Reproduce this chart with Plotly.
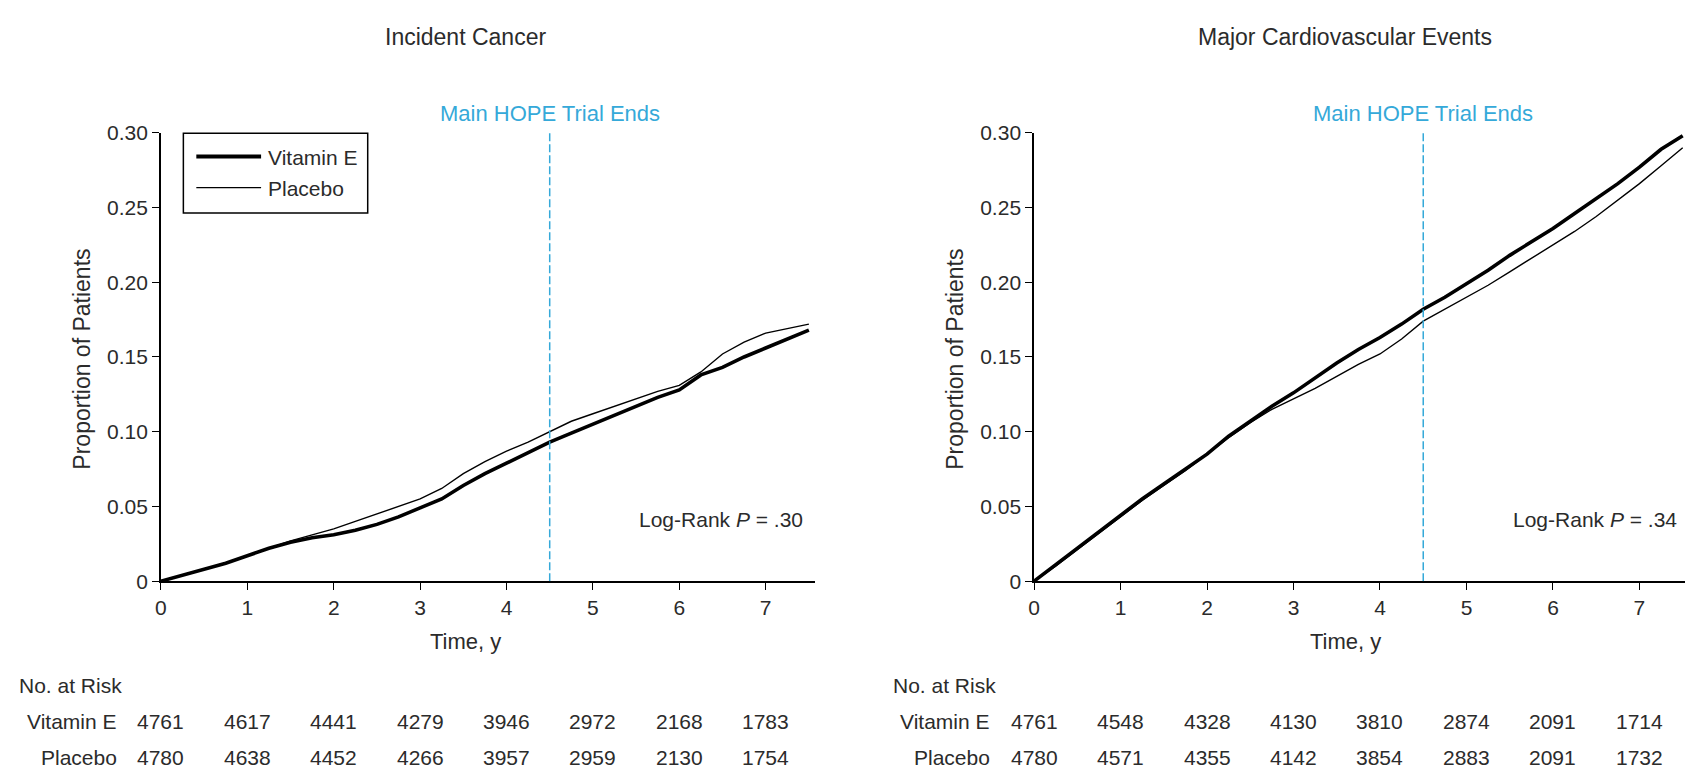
import plotly.graph_objects as go

# ---------------- data ----------------
time_grid = [0, 0.25, 0.5, 0.75, 1.0, 1.25, 1.5, 1.75, 2.0, 2.25, 2.5, 2.75, 3.0,
             3.25, 3.5, 3.75, 4.0, 4.25, 4.5, 4.75, 5.0, 5.25, 5.5, 5.75, 6.0,
             6.25, 6.5, 6.75, 7.0, 7.25, 7.5]

cancer_vitE = [0, 0.004, 0.008, 0.012, 0.017, 0.022, 0.026, 0.029, 0.031, 0.034,
               0.038, 0.043, 0.049, 0.055, 0.064, 0.072, 0.079, 0.086, 0.093, 0.099,
               0.105, 0.111, 0.117, 0.123, 0.128, 0.138, 0.143, 0.150, 0.156, 0.162, 0.168]
cancer_placebo = [0, 0.004, 0.008, 0.012, 0.017, 0.022, 0.027, 0.031, 0.035, 0.040,
                  0.045, 0.050, 0.055, 0.062, 0.072, 0.080, 0.087, 0.093, 0.100, 0.107,
                  0.112, 0.117, 0.122, 0.127, 0.131, 0.140, 0.152, 0.160, 0.166, 0.169, 0.172]

cv_vitE = [0, 0.011, 0.022, 0.033, 0.044, 0.055, 0.065, 0.075, 0.085, 0.097,
           0.107, 0.117, 0.126, 0.136, 0.146, 0.155, 0.163, 0.172, 0.182, 0.190,
           0.199, 0.208, 0.218, 0.227, 0.236, 0.246, 0.256, 0.266, 0.277, 0.289, 0.298]
cv_placebo = [0, 0.010, 0.021, 0.032, 0.043, 0.054, 0.064, 0.074, 0.085, 0.096,
              0.106, 0.115, 0.122, 0.129, 0.137, 0.145, 0.152, 0.162, 0.174, 0.182,
              0.190, 0.198, 0.207, 0.216, 0.225, 0.234, 0.244, 0.255, 0.266, 0.278, 0.290]

risk_years = [0, 1, 2, 3, 4, 5, 6, 7]
cancer_risk_vitE = [4761, 4617, 4441, 4279, 3946, 2972, 2168, 1783]
cancer_risk_placebo = [4780, 4638, 4452, 4266, 3957, 2959, 2130, 1754]
cv_risk_vitE = [4761, 4548, 4328, 4130, 3810, 2874, 2091, 1714]
cv_risk_placebo = [4780, 4571, 4355, 4142, 3854, 2883, 2091, 1732]

y_tickvals = [0, 0.05, 0.10, 0.15, 0.20, 0.25, 0.30]
y_ticktext = ["0", "0.05", "0.10", "0.15", "0.20", "0.25", "0.30"]
x_tickvals = [0, 1, 2, 3, 4, 5, 6, 7]

panel_titles = ["Incident Cancer", "Major Cardiovascular Events"]
p_values = [".30", ".34"]
trial_end = 4.5

# ---------------- layout helpers ----------------
W, H = 1685, 778
FONT = "Liberation Sans, Arial, Helvetica, sans-serif"
TXT = "#2b2b2b"
BLUE = "#35a9d9"


def px(x):
    return x / W


def py(y):
    return 1 - y / H


fig = go.Figure()

panels = [
    dict(xa="x", ya="y", x0=155.5, ppy=86.7, end=7.57,
         vit=cancer_vitE, pla=cancer_placebo,
         rv=cancer_risk_vitE, rp=cancer_risk_placebo, title_x=3.52, time_x=3.52),
    dict(xa="x2", ya="y2", x0=1031.7, ppy=86.8, end=(W - 1031.7) / 86.8,
         vit=cv_vitE, pla=cv_placebo,
         rv=cv_risk_vitE, rp=cv_risk_placebo, title_x=3.59, time_x=3.6),
]

for i, p in enumerate(panels):
    fig.add_trace(go.Scatter(x=time_grid, y=p["pla"], mode="lines", name="Placebo",
                             line=dict(color="black", width=1.4),
                             xaxis=p["xa"], yaxis=p["ya"], showlegend=False))
    fig.add_trace(go.Scatter(x=time_grid, y=p["vit"], mode="lines", name="Vitamin E",
                             line=dict(color="black", width=3.6),
                             xaxis=p["xa"], yaxis=p["ya"], showlegend=False))

ydom = [py(586.5), py(124.5)]
axis_common = dict(showline=True, linecolor="black", linewidth=1.5, ticks="outside",
                   ticklen=7, tickwidth=1.3, tickcolor="black", showgrid=False,
                   zeroline=False, tickfont=dict(family=FONT, size=21, color=TXT))

fig.update_layout(
    width=W, height=H, margin=dict(l=0, r=0, t=0, b=0),
    plot_bgcolor="white", paper_bgcolor="white", showlegend=False,
    xaxis=dict(domain=[px(155.5), px(155.5 + 7.57 * 86.7)], range=[0, 7.57],
               tickvals=x_tickvals, anchor="y", **axis_common),
    yaxis=dict(domain=ydom, range=[0, 0.30], tickvals=y_tickvals, ticktext=y_ticktext,
               anchor="x", **axis_common),
    xaxis2=dict(domain=[px(1031.7), 1.0], range=[0, (W - 1031.7) / 86.8],
                tickvals=x_tickvals, anchor="y2", **axis_common),
    yaxis2=dict(domain=ydom, range=[0, 0.30], tickvals=y_tickvals, ticktext=y_ticktext,
                anchor="x2", **axis_common),
)

ann = []
shapes = []
for i, p in enumerate(panels):
    xr = p["xa"]
    yr = p["ya"]
    x0 = p["x0"]
    # panel title
    ann.append(dict(x=p["title_x"], xref=xr, y=py(26), yref="paper", text=panel_titles[i],
                    showarrow=False, font=dict(family=FONT, size=23, color=TXT),
                    xanchor="center", yanchor="middle"))
    # trial end marker
    shapes.append(dict(type="line", xref=xr, yref=yr, x0=trial_end, x1=trial_end,
                       y0=0, y1=0.302, line=dict(color=BLUE, width=1.5, dash="8px,3px")))
    ann.append(dict(x=trial_end, xref=xr, y=py(105), yref="paper",
                    text="Main HOPE Trial Ends", showarrow=False,
                    font=dict(family=FONT, size=22, color=BLUE),
                    xanchor="center", yanchor="middle"))
    # log-rank
    ann.append(dict(x=7.46, xref=xr, y=py(523), yref="paper",
                    text="Log-Rank <i>P</i> = " + p_values[i], showarrow=False,
                    font=dict(family=FONT, size=21, color=TXT),
                    xanchor="right", yanchor="middle"))
    # axis titles
    ann.append(dict(x=px(x0 - 79), xref="paper", y=py(358), yref="paper",
                    text="Proportion of Patients", textangle=-90, showarrow=False,
                    font=dict(family=FONT, size=23, color=TXT),
                    xanchor="center", yanchor="middle"))
    ann.append(dict(x=p["time_x"], xref=xr, y=py(649), yref="paper", text="Time, y",
                    showarrow=False, font=dict(family=FONT, size=22, color=TXT),
                    xanchor="center", yanchor="middle"))
    # risk table
    ann.append(dict(x=px(x0 - 144), xref="paper", y=py(694), yref="paper",
                    text="No. at Risk", showarrow=False,
                    font=dict(family=FONT, size=21, color=TXT),
                    xanchor="left", yanchor="middle"))
    for label, vals, yy in (("Vitamin E", p["rv"], 731), ("Placebo", p["rp"], 768)):
        ann.append(dict(x=px(x0 - 42), xref="paper", y=py(yy), yref="paper",
                        text=label, showarrow=False,
                        font=dict(family=FONT, size=21, color=TXT),
                        xanchor="right", yanchor="middle"))
        for t, v in zip(risk_years, vals):
            ann.append(dict(x=t, xref=xr, y=py(yy), yref="paper", text=str(v),
                            showarrow=False, font=dict(family=FONT, size=21, color=TXT),
                            xanchor="center", yanchor="middle"))

# legend box (left panel)
shapes.append(dict(type="rect", xref="paper", yref="paper", x0=px(178), x1=px(363),
                   y0=py(207), y1=py(125), line=dict(color="black", width=1.5),
                   fillcolor="white"))
shapes.append(dict(type="line", xref="paper", yref="paper", x0=px(191), x1=px(256),
                   y0=py(149), y1=py(149), line=dict(color="black", width=4)))
shapes.append(dict(type="line", xref="paper", yref="paper", x0=px(191), x1=px(256),
                   y0=py(181), y1=py(181), line=dict(color="black", width=1.4)))
ann.append(dict(x=px(261), xref="paper", y=py(150), yref="paper", text="Vitamin E",
                showarrow=False, font=dict(family=FONT, size=21, color=TXT),
                xanchor="left", yanchor="middle"))
ann.append(dict(x=px(261), xref="paper", y=py(182), yref="paper", text="Placebo",
                showarrow=False, font=dict(family=FONT, size=21, color=TXT),
                xanchor="left", yanchor="middle"))

fig.update_layout(annotations=ann, shapes=shapes)
fig.write_html("out.html")
